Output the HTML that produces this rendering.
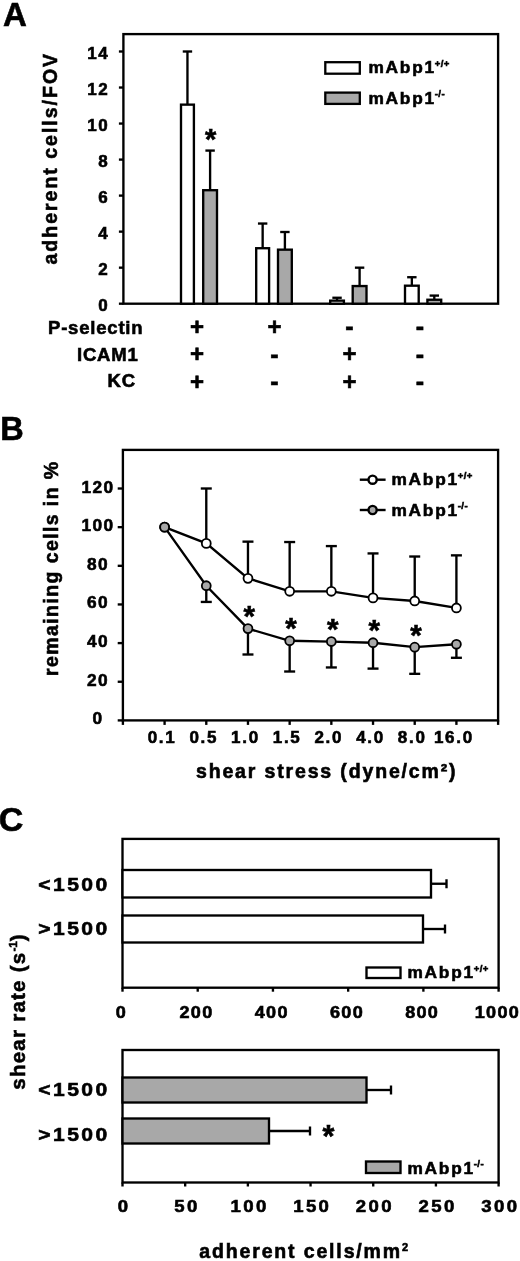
<!DOCTYPE html>
<html><head><meta charset="utf-8"><title>Figure</title>
<style>
html,body{margin:0;padding:0;background:#fff;}
svg{display:block;}
text{font-family:"Liberation Sans", Arial, Helvetica, sans-serif;font-weight:bold;fill:#000;stroke:#000;stroke-width:0.6px;}
</style></head>
<body>
<svg width="520" height="1261" viewBox="0 0 520 1261">
<rect x="0" y="0" width="520" height="1261" fill="#fff"/>
<text x="3.0" y="26.3" font-size="33" text-anchor="start" letter-spacing="0" >A</text>
<rect x="123.40" y="34.10" width="374.70" height="269.60" fill="none" stroke="#000" stroke-width="2.35"/>
<text x="109.5" y="311.2" font-size="17" text-anchor="end" letter-spacing="1.7" >0</text>
<line x1="118.90" y1="303.70" x2="123.40" y2="303.70" stroke="#000" stroke-width="2.35"/>
<text x="109.5" y="275.1714285714286" font-size="17" text-anchor="end" letter-spacing="1.7" >2</text>
<line x1="118.90" y1="267.67" x2="123.40" y2="267.67" stroke="#000" stroke-width="2.35"/>
<text x="109.5" y="239.14285714285714" font-size="17" text-anchor="end" letter-spacing="1.7" >4</text>
<line x1="118.90" y1="231.64" x2="123.40" y2="231.64" stroke="#000" stroke-width="2.35"/>
<text x="109.5" y="203.1142857142857" font-size="17" text-anchor="end" letter-spacing="1.7" >6</text>
<line x1="118.90" y1="195.61" x2="123.40" y2="195.61" stroke="#000" stroke-width="2.35"/>
<text x="109.5" y="167.0857142857143" font-size="17" text-anchor="end" letter-spacing="1.7" >8</text>
<line x1="118.90" y1="159.59" x2="123.40" y2="159.59" stroke="#000" stroke-width="2.35"/>
<text x="109.5" y="131.05714285714288" font-size="17" text-anchor="end" letter-spacing="1.7" >10</text>
<line x1="118.90" y1="123.56" x2="123.40" y2="123.56" stroke="#000" stroke-width="2.35"/>
<text x="109.5" y="95.02857142857144" font-size="17" text-anchor="end" letter-spacing="1.7" >12</text>
<line x1="118.90" y1="87.53" x2="123.40" y2="87.53" stroke="#000" stroke-width="2.35"/>
<text x="109.5" y="59.0" font-size="17" text-anchor="end" letter-spacing="1.7" >14</text>
<line x1="118.90" y1="51.50" x2="123.40" y2="51.50" stroke="#000" stroke-width="2.35"/>
<line x1="187.45" y1="104.64" x2="187.45" y2="51.50" stroke="#000" stroke-width="2.35"/>
<line x1="182.75" y1="51.50" x2="192.15" y2="51.50" stroke="#000" stroke-width="2.35"/>
<rect x="181.00" y="104.64" width="12.90" height="199.06" fill="#fff" stroke="#000" stroke-width="2.35"/>
<line x1="210.10" y1="190.21" x2="210.10" y2="150.58" stroke="#000" stroke-width="2.35"/>
<line x1="205.40" y1="150.58" x2="214.80" y2="150.58" stroke="#000" stroke-width="2.35"/>
<rect x="203.20" y="190.21" width="13.80" height="113.49" fill="#a8a8a8" stroke="#000" stroke-width="2.35"/>
<line x1="262.65" y1="248.22" x2="262.65" y2="223.54" stroke="#000" stroke-width="2.35"/>
<line x1="257.95" y1="223.54" x2="267.35" y2="223.54" stroke="#000" stroke-width="2.35"/>
<rect x="256.20" y="248.22" width="12.90" height="55.48" fill="#fff" stroke="#000" stroke-width="2.35"/>
<line x1="284.90" y1="249.66" x2="284.90" y2="232.00" stroke="#000" stroke-width="2.35"/>
<line x1="280.20" y1="232.00" x2="289.60" y2="232.00" stroke="#000" stroke-width="2.35"/>
<rect x="278.00" y="249.66" width="13.80" height="54.04" fill="#a8a8a8" stroke="#000" stroke-width="2.35"/>
<line x1="337.05" y1="300.64" x2="337.05" y2="297.76" stroke="#000" stroke-width="2.35"/>
<line x1="332.35" y1="297.76" x2="341.75" y2="297.76" stroke="#000" stroke-width="2.35"/>
<rect x="330.20" y="300.64" width="13.70" height="3.06" fill="#fff" stroke="#000" stroke-width="2.35"/>
<line x1="359.60" y1="286.05" x2="359.60" y2="267.67" stroke="#000" stroke-width="2.35"/>
<line x1="354.90" y1="267.67" x2="364.30" y2="267.67" stroke="#000" stroke-width="2.35"/>
<rect x="352.70" y="286.05" width="13.80" height="17.65" fill="#a8a8a8" stroke="#000" stroke-width="2.35"/>
<line x1="411.85" y1="285.69" x2="411.85" y2="277.22" stroke="#000" stroke-width="2.35"/>
<line x1="407.15" y1="277.22" x2="416.55" y2="277.22" stroke="#000" stroke-width="2.35"/>
<rect x="405.00" y="285.69" width="13.70" height="18.01" fill="#fff" stroke="#000" stroke-width="2.35"/>
<line x1="434.30" y1="299.74" x2="434.30" y2="295.59" stroke="#000" stroke-width="2.35"/>
<line x1="429.60" y1="295.59" x2="439.00" y2="295.59" stroke="#000" stroke-width="2.35"/>
<rect x="427.40" y="299.74" width="13.80" height="3.96" fill="#a8a8a8" stroke="#000" stroke-width="2.35"/>
<text x="210.6" y="149.3" font-size="29" text-anchor="middle" letter-spacing="0" stroke-width="0.15">*</text>
<rect x="325.30" y="62.20" width="34.50" height="11.50" fill="#fff" stroke="#000" stroke-width="2.3"/>
<rect x="325.30" y="92.60" width="34.50" height="11.30" fill="#a8a8a8" stroke="#000" stroke-width="2.3"/>
<text x="368.5" y="73.4" font-size="17.3" letter-spacing="1.75">mAbp1<tspan font-size="9.5" dy="-6.4" dx="-1.2" letter-spacing="0.5">+/+</tspan></text>
<text x="368.5" y="103.6" font-size="17.3" letter-spacing="1.75">mAbp1<tspan font-size="9.5" dy="-6.4" dx="-1.2" letter-spacing="0.5">-/-</tspan></text>
<text x="48" y="333.7" font-size="18.5" text-anchor="start" letter-spacing="0.8" >P-selectin</text>
<text x="77" y="360.5" font-size="18.5" text-anchor="start" letter-spacing="0.8" >ICAM1</text>
<text x="107.5" y="386.5" font-size="18.5" text-anchor="start" letter-spacing="0.8" >KC</text>
<text x="196.9" y="334.8" font-size="24" text-anchor="middle" letter-spacing="0" stroke-width="1.3">+</text>
<text x="274.4" y="334.8" font-size="24" text-anchor="middle" letter-spacing="0" stroke-width="1.3">+</text>
<text x="349.3" y="335.3" font-size="25" text-anchor="middle" letter-spacing="0" stroke-width="1.4">-</text>
<text x="419.8" y="335.3" font-size="25" text-anchor="middle" letter-spacing="0" stroke-width="1.4">-</text>
<text x="196.9" y="362.3" font-size="24" text-anchor="middle" letter-spacing="0" stroke-width="1.3">+</text>
<text x="274.3" y="362.8" font-size="25" text-anchor="middle" letter-spacing="0" stroke-width="1.4">-</text>
<text x="349.4" y="362.3" font-size="24" text-anchor="middle" letter-spacing="0" stroke-width="1.3">+</text>
<text x="419.8" y="362.8" font-size="25" text-anchor="middle" letter-spacing="0" stroke-width="1.4">-</text>
<text x="196.9" y="389.8" font-size="24" text-anchor="middle" letter-spacing="0" stroke-width="1.3">+</text>
<text x="274.3" y="390.3" font-size="25" text-anchor="middle" letter-spacing="0" stroke-width="1.4">-</text>
<text x="349.4" y="389.8" font-size="24" text-anchor="middle" letter-spacing="0" stroke-width="1.3">+</text>
<text x="419.8" y="390.3" font-size="25" text-anchor="middle" letter-spacing="0" stroke-width="1.4">-</text>
<text transform="translate(57.3,158.2) rotate(-90)" font-size="19.5" text-anchor="middle" letter-spacing="2.0">adherent cells/FOV</text>
<text x="0.2" y="440.4" font-size="32.5" text-anchor="start" letter-spacing="0" >B</text>
<rect x="122.90" y="449.90" width="375.20" height="270.50" fill="none" stroke="#000" stroke-width="2.35"/>
<text x="98.05" y="724.4" font-size="17.3" text-anchor="middle" letter-spacing="1.5" >0</text>
<line x1="117.70" y1="720.40" x2="122.90" y2="720.40" stroke="#000" stroke-width="2.35"/>
<text x="98.05" y="685.75" font-size="17.3" text-anchor="middle" letter-spacing="1.5" >20</text>
<line x1="117.70" y1="681.75" x2="122.90" y2="681.75" stroke="#000" stroke-width="2.35"/>
<text x="98.05" y="647.1" font-size="17.3" text-anchor="middle" letter-spacing="1.5" >40</text>
<line x1="117.70" y1="643.10" x2="122.90" y2="643.10" stroke="#000" stroke-width="2.35"/>
<text x="98.05" y="608.45" font-size="17.3" text-anchor="middle" letter-spacing="1.5" >60</text>
<line x1="117.70" y1="604.45" x2="122.90" y2="604.45" stroke="#000" stroke-width="2.35"/>
<text x="98.05" y="569.8" font-size="17.3" text-anchor="middle" letter-spacing="1.5" >80</text>
<line x1="117.70" y1="565.80" x2="122.90" y2="565.80" stroke="#000" stroke-width="2.35"/>
<text x="98.05" y="531.15" font-size="17.3" text-anchor="middle" letter-spacing="1.5" >100</text>
<line x1="117.70" y1="527.15" x2="122.90" y2="527.15" stroke="#000" stroke-width="2.35"/>
<text x="98.05" y="492.5" font-size="17.3" text-anchor="middle" letter-spacing="1.5" >120</text>
<line x1="117.70" y1="488.50" x2="122.90" y2="488.50" stroke="#000" stroke-width="2.35"/>
<line x1="122.90" y1="720.40" x2="122.90" y2="724.90" stroke="#000" stroke-width="2.35"/>
<line x1="164.59" y1="720.40" x2="164.59" y2="724.90" stroke="#000" stroke-width="2.35"/>
<line x1="206.28" y1="720.40" x2="206.28" y2="724.90" stroke="#000" stroke-width="2.35"/>
<line x1="247.97" y1="720.40" x2="247.97" y2="724.90" stroke="#000" stroke-width="2.35"/>
<line x1="289.66" y1="720.40" x2="289.66" y2="724.90" stroke="#000" stroke-width="2.35"/>
<line x1="331.34" y1="720.40" x2="331.34" y2="724.90" stroke="#000" stroke-width="2.35"/>
<line x1="373.03" y1="720.40" x2="373.03" y2="724.90" stroke="#000" stroke-width="2.35"/>
<line x1="414.72" y1="720.40" x2="414.72" y2="724.90" stroke="#000" stroke-width="2.35"/>
<line x1="456.41" y1="720.40" x2="456.41" y2="724.90" stroke="#000" stroke-width="2.35"/>
<line x1="498.10" y1="720.40" x2="498.10" y2="724.90" stroke="#000" stroke-width="2.35"/>
<text x="162.0888888888889" y="743.2" font-size="17" text-anchor="middle" letter-spacing="1.7" >0.1</text>
<text x="203.7777777777778" y="743.2" font-size="17" text-anchor="middle" letter-spacing="1.7" >0.5</text>
<text x="245.4666666666667" y="743.2" font-size="17" text-anchor="middle" letter-spacing="1.7" >1.0</text>
<text x="287.15555555555557" y="743.2" font-size="17" text-anchor="middle" letter-spacing="1.7" >1.5</text>
<text x="328.8444444444445" y="743.2" font-size="17" text-anchor="middle" letter-spacing="1.7" >2.0</text>
<text x="370.5333333333334" y="743.2" font-size="17" text-anchor="middle" letter-spacing="1.7" >4.0</text>
<text x="412.2222222222223" y="743.2" font-size="17" text-anchor="middle" letter-spacing="1.7" >8.0</text>
<text x="453.91111111111115" y="743.2" font-size="17" text-anchor="middle" letter-spacing="1.7" >16.0</text>
<line x1="206.28" y1="543.38" x2="206.28" y2="488.50" stroke="#000" stroke-width="2.35"/>
<line x1="200.78" y1="488.50" x2="211.78" y2="488.50" stroke="#000" stroke-width="2.35"/>
<line x1="247.97" y1="578.36" x2="247.97" y2="541.64" stroke="#000" stroke-width="2.35"/>
<line x1="242.47" y1="541.64" x2="253.47" y2="541.64" stroke="#000" stroke-width="2.35"/>
<line x1="289.66" y1="591.31" x2="289.66" y2="542.03" stroke="#000" stroke-width="2.35"/>
<line x1="284.16" y1="542.03" x2="295.16" y2="542.03" stroke="#000" stroke-width="2.35"/>
<line x1="331.34" y1="591.31" x2="331.34" y2="546.09" stroke="#000" stroke-width="2.35"/>
<line x1="325.84" y1="546.09" x2="336.84" y2="546.09" stroke="#000" stroke-width="2.35"/>
<line x1="373.03" y1="597.88" x2="373.03" y2="553.43" stroke="#000" stroke-width="2.35"/>
<line x1="367.53" y1="553.43" x2="378.53" y2="553.43" stroke="#000" stroke-width="2.35"/>
<line x1="414.72" y1="600.97" x2="414.72" y2="556.52" stroke="#000" stroke-width="2.35"/>
<line x1="409.22" y1="556.52" x2="420.22" y2="556.52" stroke="#000" stroke-width="2.35"/>
<line x1="456.41" y1="607.93" x2="456.41" y2="555.36" stroke="#000" stroke-width="2.35"/>
<line x1="450.91" y1="555.36" x2="461.91" y2="555.36" stroke="#000" stroke-width="2.35"/>
<line x1="206.28" y1="585.70" x2="206.28" y2="601.94" stroke="#000" stroke-width="2.35"/>
<line x1="200.78" y1="601.94" x2="211.78" y2="601.94" stroke="#000" stroke-width="2.35"/>
<line x1="247.97" y1="628.61" x2="247.97" y2="654.50" stroke="#000" stroke-width="2.35"/>
<line x1="242.47" y1="654.50" x2="253.47" y2="654.50" stroke="#000" stroke-width="2.35"/>
<line x1="289.66" y1="640.78" x2="289.66" y2="671.51" stroke="#000" stroke-width="2.35"/>
<line x1="284.16" y1="671.51" x2="295.16" y2="671.51" stroke="#000" stroke-width="2.35"/>
<line x1="331.34" y1="641.55" x2="331.34" y2="667.45" stroke="#000" stroke-width="2.35"/>
<line x1="325.84" y1="667.45" x2="336.84" y2="667.45" stroke="#000" stroke-width="2.35"/>
<line x1="373.03" y1="642.71" x2="373.03" y2="668.61" stroke="#000" stroke-width="2.35"/>
<line x1="367.53" y1="668.61" x2="378.53" y2="668.61" stroke="#000" stroke-width="2.35"/>
<line x1="414.72" y1="647.16" x2="414.72" y2="673.83" stroke="#000" stroke-width="2.35"/>
<line x1="409.22" y1="673.83" x2="420.22" y2="673.83" stroke="#000" stroke-width="2.35"/>
<line x1="456.41" y1="644.26" x2="456.41" y2="657.79" stroke="#000" stroke-width="2.35"/>
<line x1="450.91" y1="657.79" x2="461.91" y2="657.79" stroke="#000" stroke-width="2.35"/>
<polyline points="164.59,527.15 206.28,543.38 247.97,578.36 289.66,591.31 331.34,591.31 373.03,597.88 414.72,600.97 456.41,607.93" fill="none" stroke="#000" stroke-width="2.35"/>
<polyline points="164.59,527.15 206.28,585.70 247.97,628.61 289.66,640.78 331.34,641.55 373.03,642.71 414.72,647.16 456.41,644.26" fill="none" stroke="#000" stroke-width="2.35"/>
<circle cx="164.59" cy="527.15" r="4.45" fill="#fff" stroke="#000" stroke-width="1.8"/>
<circle cx="206.28" cy="543.38" r="4.45" fill="#fff" stroke="#000" stroke-width="1.8"/>
<circle cx="247.97" cy="578.36" r="4.45" fill="#fff" stroke="#000" stroke-width="1.8"/>
<circle cx="289.66" cy="591.31" r="4.45" fill="#fff" stroke="#000" stroke-width="1.8"/>
<circle cx="331.34" cy="591.31" r="4.45" fill="#fff" stroke="#000" stroke-width="1.8"/>
<circle cx="373.03" cy="597.88" r="4.45" fill="#fff" stroke="#000" stroke-width="1.8"/>
<circle cx="414.72" cy="600.97" r="4.45" fill="#fff" stroke="#000" stroke-width="1.8"/>
<circle cx="456.41" cy="607.93" r="4.45" fill="#fff" stroke="#000" stroke-width="1.8"/>
<circle cx="164.59" cy="527.15" r="4.45" fill="#a8a8a8" stroke="#000" stroke-width="1.8"/>
<circle cx="206.28" cy="585.70" r="4.45" fill="#a8a8a8" stroke="#000" stroke-width="1.8"/>
<circle cx="247.97" cy="628.61" r="4.45" fill="#a8a8a8" stroke="#000" stroke-width="1.8"/>
<circle cx="289.66" cy="640.78" r="4.45" fill="#a8a8a8" stroke="#000" stroke-width="1.8"/>
<circle cx="331.34" cy="641.55" r="4.45" fill="#a8a8a8" stroke="#000" stroke-width="1.8"/>
<circle cx="373.03" cy="642.71" r="4.45" fill="#a8a8a8" stroke="#000" stroke-width="1.8"/>
<circle cx="414.72" cy="647.16" r="4.45" fill="#a8a8a8" stroke="#000" stroke-width="1.8"/>
<circle cx="456.41" cy="644.26" r="4.45" fill="#a8a8a8" stroke="#000" stroke-width="1.8"/>
<text x="249.2666666666667" y="626.10625" font-size="29.5" text-anchor="middle" letter-spacing="0" stroke-width="0.15">*</text>
<text x="290.9555555555556" y="638.281" font-size="29.5" text-anchor="middle" letter-spacing="0" stroke-width="0.15">*</text>
<text x="332.6444444444445" y="639.054" font-size="29.5" text-anchor="middle" letter-spacing="0" stroke-width="0.15">*</text>
<text x="374.3333333333334" y="640.2135" font-size="29.5" text-anchor="middle" letter-spacing="0" stroke-width="0.15">*</text>
<text x="416.0222222222223" y="644.65825" font-size="29.5" text-anchor="middle" letter-spacing="0" stroke-width="0.15">*</text>
<line x1="359.80" y1="479.70" x2="385.60" y2="479.70" stroke="#000" stroke-width="2.4"/>
<circle cx="372.6" cy="479.7" r="4.1" fill="#fff" stroke="#000" stroke-width="2.4"/>
<line x1="359.80" y1="510.00" x2="385.60" y2="510.00" stroke="#000" stroke-width="2.4"/>
<circle cx="372.6" cy="510" r="4.1" fill="#a8a8a8" stroke="#000" stroke-width="2.4"/>
<text x="391.5" y="485.2" font-size="17.3" letter-spacing="1.75">mAbp1<tspan font-size="9.5" dy="-6.4" dx="-1.2" letter-spacing="0.5">+/+</tspan></text>
<text x="391.5" y="515.5" font-size="17.3" letter-spacing="1.75">mAbp1<tspan font-size="9.5" dy="-6.4" dx="-1.2" letter-spacing="0.5">-/-</tspan></text>
<text x="326.7" y="778.3" font-size="19.5" text-anchor="middle" letter-spacing="1.85" >shear stress (dyne/cm²)</text>
<text transform="translate(58,568.2) rotate(-90)" font-size="19.5" text-anchor="middle" letter-spacing="1.4">remaining cells in %</text>
<text x="-1.2" y="831.2" font-size="34" text-anchor="start" letter-spacing="0" >C</text>
<rect x="122.50" y="838.90" width="376.10" height="148.80" fill="none" stroke="#000" stroke-width="2.35"/>
<line x1="431.00" y1="883.75" x2="446.50" y2="883.75" stroke="#000" stroke-width="2.35"/>
<line x1="446.50" y1="879.25" x2="446.50" y2="888.25" stroke="#000" stroke-width="2.35"/>
<rect x="122.50" y="870.00" width="308.50" height="27.50" fill="#fff" stroke="#000" stroke-width="2.35"/>
<line x1="423.00" y1="929.00" x2="445.00" y2="929.00" stroke="#000" stroke-width="2.35"/>
<line x1="445.00" y1="924.50" x2="445.00" y2="933.50" stroke="#000" stroke-width="2.35"/>
<rect x="122.50" y="915.50" width="300.50" height="27.00" fill="#fff" stroke="#000" stroke-width="2.35"/>
<line x1="122.50" y1="987.70" x2="122.50" y2="991.70" stroke="#000" stroke-width="2.35"/>
<text transform="translate(121.3,1018.3) scale(1.05,1)" font-size="17.2" text-anchor="middle" letter-spacing="1.24">0</text>
<line x1="197.72" y1="987.70" x2="197.72" y2="991.70" stroke="#000" stroke-width="2.35"/>
<text transform="translate(196.52,1018.3) scale(1.05,1)" font-size="17.2" text-anchor="middle" letter-spacing="1.24">200</text>
<line x1="272.94" y1="987.70" x2="272.94" y2="991.70" stroke="#000" stroke-width="2.35"/>
<text transform="translate(271.74,1018.3) scale(1.05,1)" font-size="17.2" text-anchor="middle" letter-spacing="1.24">400</text>
<line x1="348.16" y1="987.70" x2="348.16" y2="991.70" stroke="#000" stroke-width="2.35"/>
<text transform="translate(346.96,1018.3) scale(1.05,1)" font-size="17.2" text-anchor="middle" letter-spacing="1.24">600</text>
<line x1="423.38" y1="987.70" x2="423.38" y2="991.70" stroke="#000" stroke-width="2.35"/>
<text transform="translate(422.18,1018.3) scale(1.05,1)" font-size="17.2" text-anchor="middle" letter-spacing="1.24">800</text>
<line x1="498.60" y1="987.70" x2="498.60" y2="991.70" stroke="#000" stroke-width="2.35"/>
<text transform="translate(497.40000000000003,1018.3) scale(1.05,1)" font-size="17.2" text-anchor="middle" letter-spacing="1.24">1000</text>
<text transform="translate(109.8,891) scale(1.17,1)" font-size="18" text-anchor="end" letter-spacing="2.14">&lt;1500</text>
<text transform="translate(109.8,934.5) scale(1.17,1)" font-size="18" text-anchor="end" letter-spacing="2.14">&gt;1500</text>
<rect x="366.50" y="967.50" width="34.00" height="10.50" fill="#fff" stroke="#000" stroke-width="2.35"/>
<text x="407.5" y="978.1" font-size="17.3" letter-spacing="1.75">mAbp1<tspan font-size="9.5" dy="-6.4" dx="-1.2" letter-spacing="0.5">+/+</tspan></text>
<rect x="122.50" y="1050.00" width="376.10" height="132.50" fill="none" stroke="#000" stroke-width="2.35"/>
<line x1="366.50" y1="1090.00" x2="391.00" y2="1090.00" stroke="#000" stroke-width="2.35"/>
<line x1="391.00" y1="1085.50" x2="391.00" y2="1094.50" stroke="#000" stroke-width="2.35"/>
<rect x="122.50" y="1077.50" width="244.00" height="25.00" fill="#a8a8a8" stroke="#000" stroke-width="2.35"/>
<line x1="269.00" y1="1131.00" x2="310.00" y2="1131.00" stroke="#000" stroke-width="2.35"/>
<line x1="310.00" y1="1126.50" x2="310.00" y2="1135.50" stroke="#000" stroke-width="2.35"/>
<rect x="122.50" y="1118.50" width="146.50" height="25.00" fill="#a8a8a8" stroke="#000" stroke-width="2.35"/>
<line x1="122.50" y1="1182.50" x2="122.50" y2="1186.50" stroke="#000" stroke-width="2.35"/>
<text transform="translate(124.2,1212.3) scale(1.08,1)" font-size="17.2" text-anchor="middle" letter-spacing="2.22">0</text>
<line x1="185.18" y1="1182.50" x2="185.18" y2="1186.50" stroke="#000" stroke-width="2.35"/>
<text transform="translate(186.88333333333333,1212.3) scale(1.08,1)" font-size="17.2" text-anchor="middle" letter-spacing="2.22">50</text>
<line x1="247.87" y1="1182.50" x2="247.87" y2="1186.50" stroke="#000" stroke-width="2.35"/>
<text transform="translate(249.56666666666666,1212.3) scale(1.08,1)" font-size="17.2" text-anchor="middle" letter-spacing="2.22">100</text>
<line x1="310.55" y1="1182.50" x2="310.55" y2="1186.50" stroke="#000" stroke-width="2.35"/>
<text transform="translate(312.25,1212.3) scale(1.08,1)" font-size="17.2" text-anchor="middle" letter-spacing="2.22">150</text>
<line x1="373.23" y1="1182.50" x2="373.23" y2="1186.50" stroke="#000" stroke-width="2.35"/>
<text transform="translate(374.93333333333334,1212.3) scale(1.08,1)" font-size="17.2" text-anchor="middle" letter-spacing="2.22">200</text>
<line x1="435.92" y1="1182.50" x2="435.92" y2="1186.50" stroke="#000" stroke-width="2.35"/>
<text transform="translate(437.6166666666667,1212.3) scale(1.08,1)" font-size="17.2" text-anchor="middle" letter-spacing="2.22">250</text>
<line x1="498.60" y1="1182.50" x2="498.60" y2="1186.50" stroke="#000" stroke-width="2.35"/>
<text transform="translate(500.3,1212.3) scale(1.08,1)" font-size="17.2" text-anchor="middle" letter-spacing="2.22">300</text>
<text transform="translate(109.8,1096) scale(1.17,1)" font-size="18" text-anchor="end" letter-spacing="2.14">&lt;1500</text>
<text transform="translate(109.8,1141) scale(1.17,1)" font-size="18" text-anchor="end" letter-spacing="2.14">&gt;1500</text>
<rect x="366.00" y="1161.50" width="34.50" height="11.50" fill="#a8a8a8" stroke="#000" stroke-width="2.35"/>
<text x="407.5" y="1173.5" font-size="17.3" letter-spacing="1.75">mAbp1<tspan font-size="9.5" dy="-6.4" dx="-1.2" letter-spacing="0.5">-/-</tspan></text>
<text x="328.5" y="1146.6" font-size="30.5" text-anchor="middle" letter-spacing="0" stroke-width="0.15">*</text>
<text x="199.3" y="1258" font-size="19.5" letter-spacing="1.85">adherent cells/mm<tspan font-size="11" dy="-7" letter-spacing="0">2</tspan></text>
<text transform="translate(24.8,1011.5) rotate(-90)" font-size="20.5" text-anchor="middle" letter-spacing="1.25">shear rate (s<tspan font-size="11.5" dy="-7.5" letter-spacing="0">-1</tspan><tspan dy="7.5">)</tspan></text>
</svg>
</body></html>
